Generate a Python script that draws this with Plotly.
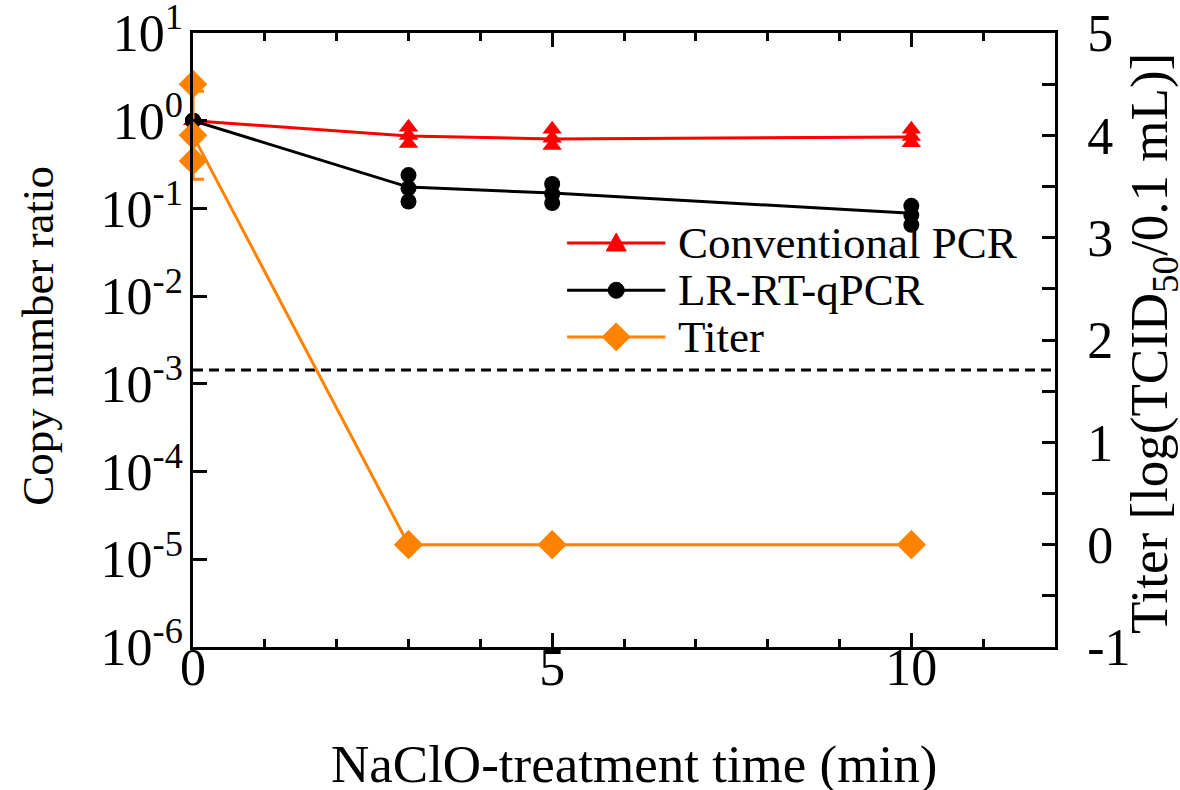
import plotly.graph_objects as go

# ---------------- data ----------------
time_min = [0, 3, 5, 10]

conv_pcr_mean = [1.0, 0.67, 0.62, 0.65]
conv_pcr_reps = [[1.0, 1.0, 1.0], [0.84, 0.68, 0.55], [0.80, 0.63, 0.52], [0.80, 0.66, 0.56]]

lr_qpcr_mean = [1.0, 0.175, 0.15, 0.088]
lr_qpcr_reps = [[1.0, 1.0, 1.0], [0.24, 0.17, 0.12], [0.19, 0.146, 0.115], [0.107, 0.084, 0.065]]

titer_mean = [4.0, 0.0, 0.0, 0.0]
titer_err = [0.43, 0.0, 0.0, 0.0]
titer_reps = [[4.5, 4.0, 3.75], [0, 0, 0], [0, 0, 0], [0, 0, 0]]

detection_limit = 1.44e-3

series_names = ["Conventional PCR", "LR-RT-qPCR", "Titer"]

x_tickvals = [0, 5, 10]
y_tickvals = [1e-6, 1e-5, 1e-4, 1e-3, 1e-2, 1e-1, 1e0, 1e1]
y_ticktext = ["10<sup>-6</sup>", "10<sup>-5</sup>", "10<sup>-4</sup>", "10<sup>-3</sup>",
              "10<sup>-2</sup>", "10<sup>-1</sup>", "10<sup>0</sup>", "10<sup>1</sup>"]
y2_tickvals = [-1, 0, 1, 2, 3, 4, 5]
y2_ticktext = ["-1", "0", "1", "2", "3", "4", "5"]

RED = "#FF0000"
BLACK = "#000000"
ORANGE = "#FF8200"
FONT = "Liberation Serif"


def flat(xs, reps):
    fx, fy = [], []
    for x, r in zip(xs, reps):
        for v in r:
            fx.append(x)
            fy.append(v)
    return fx, fy


fig = go.Figure()

# Conventional PCR
rx, ry = flat(time_min, conv_pcr_reps)
fig.add_trace(go.Scatter(x=rx, y=ry, mode="markers", showlegend=False, cliponaxis=False,
                         marker=dict(symbol="triangle-up", size=17, color=RED)))
fig.add_trace(go.Scatter(x=time_min, y=conv_pcr_mean, mode="lines", name=series_names[0],
                         showlegend=False, cliponaxis=False, line=dict(color=RED, width=3)))

# LR-RT-qPCR
rx, ry = flat(time_min, lr_qpcr_reps)
fig.add_trace(go.Scatter(x=rx, y=ry, mode="markers", showlegend=False, cliponaxis=False,
                         marker=dict(symbol="circle", size=16, color=BLACK)))
fig.add_trace(go.Scatter(x=time_min, y=lr_qpcr_mean, mode="lines", name=series_names[1],
                         showlegend=False, cliponaxis=False, line=dict(color=BLACK, width=3)))

# Titer (right axis)
rx, ry = flat(time_min, titer_reps)
fig.add_trace(go.Scatter(x=rx, y=ry, mode="markers", showlegend=False, cliponaxis=False, yaxis="y2",
                         marker=dict(symbol="diamond", size=22, color=ORANGE)))
fig.add_trace(go.Scatter(x=time_min, y=titer_mean, mode="lines", name=series_names[2],
                         showlegend=False, cliponaxis=False, yaxis="y2", line=dict(color=ORANGE, width=3),
                         error_y=dict(type="data", array=titer_err, color=ORANGE, thickness=3, width=11)))

fig.add_hline(y=detection_limit, line=dict(color=BLACK, width=3, dash="10px,6px"), layer="below")

# ---------------- manual legend (layout decoration) ----------------
leg_rows_y = [0.658, 0.581, 0.505]
leg_x0, leg_x1, leg_xm, leg_xt = 0.434, 0.548, 0.491, 0.560
leg_colors = [RED, BLACK, ORANGE]
for i, (name, yy, col) in enumerate(zip(series_names, leg_rows_y, leg_colors)):
    fig.add_shape(type="line", xref="paper", yref="paper", x0=leg_x0, x1=leg_x1, y0=yy, y1=yy,
                  line=dict(color=col, width=3))
    if i == 1:
        fig.add_shape(type="circle", xref="paper", yref="paper", xsizemode="pixel", ysizemode="pixel",
                      xanchor=leg_xm, yanchor=yy, x0=-8, x1=8, y0=-8, y1=8,
                      fillcolor=col, line=dict(color=col, width=1))
    else:
        pth = "M-10,-8 L10,-8 L0,10 Z" if i == 0 else "M0,-14 L14,0 L0,14 L-14,0 Z"
        fig.add_shape(type="path", xref="paper", yref="paper", xsizemode="pixel", ysizemode="pixel",
                      xanchor=leg_xm, yanchor=yy, path=pth, fillcolor=col, line=dict(color=col, width=1))
    fig.add_annotation(xref="paper", yref="paper", x=leg_xt, y=yy, text=name, showarrow=False,
                       xanchor="left", yanchor="middle", font=dict(family=FONT, size=45, color="black"))

# axis titles as annotations for exact placement
fig.add_annotation(xref="paper", yref="paper", x=0.5116, y=-0.192, text="NaClO-treatment time (min)",
                   showarrow=False, xanchor="center", yanchor="middle",
                   font=dict(family=FONT, size=53, color="black"))
fig.add_annotation(xref="paper", yref="paper", x=-0.180, y=0.5065, text="Copy number ratio", textangle=-90,
                   showarrow=False, xanchor="center", yanchor="middle",
                   font=dict(family=FONT, size=45, color="black"))
fig.add_annotation(xref="paper", yref="paper", x=1.1137, y=0.4935, text="Titer [log(TCID<sub>50</sub>/0.1 mL)]",
                   textangle=-90, showarrow=False, xanchor="center", yanchor="middle",
                   font=dict(family=FONT, size=53, color="black"))

axis_common = dict(showline=True, linecolor="black", linewidth=2.5, ticks="inside",
                   tickcolor="black", tickwidth=2.5, showgrid=False, zeroline=False, automargin=False,
                   ticklabeloverflow="allow",
                   tickfont=dict(family=FONT, size=52, color="black"))

fig.update_layout(
    width=1180, height=790,
    margin=dict(l=193, r=125, t=33, b=143),
    paper_bgcolor="white", plot_bgcolor="white",
    font=dict(family=FONT, color="black"),
    showlegend=False,
    xaxis=dict(range=[0, 12], tickvals=x_tickvals, ticklen=14, mirror="ticks",
               minor=dict(dtick=1, ticks="inside", ticklen=8, tickcolor="black", tickwidth=2.5),
               ticklabelstandoff=-27,
               **axis_common),
    yaxis=dict(type="log", range=[-6, 1], tickvals=y_tickvals, ticktext=y_ticktext, ticklen=14,
               ticklabelstandoff=-3,
               **axis_common),
    yaxis2=dict(overlaying="y", side="right", range=[-1, 5], tickvals=y2_tickvals, ticktext=y2_ticktext,
                ticklen=13,
                minor=dict(dtick=0.5, ticks="inside", ticklen=13, tickcolor="black", tickwidth=2.5),
                ticklabelstandoff=19,
                **axis_common),
)

fig.write_html("out.html", config={"displayModeBar": False},
               post_script="document.body.style.margin='0';")
